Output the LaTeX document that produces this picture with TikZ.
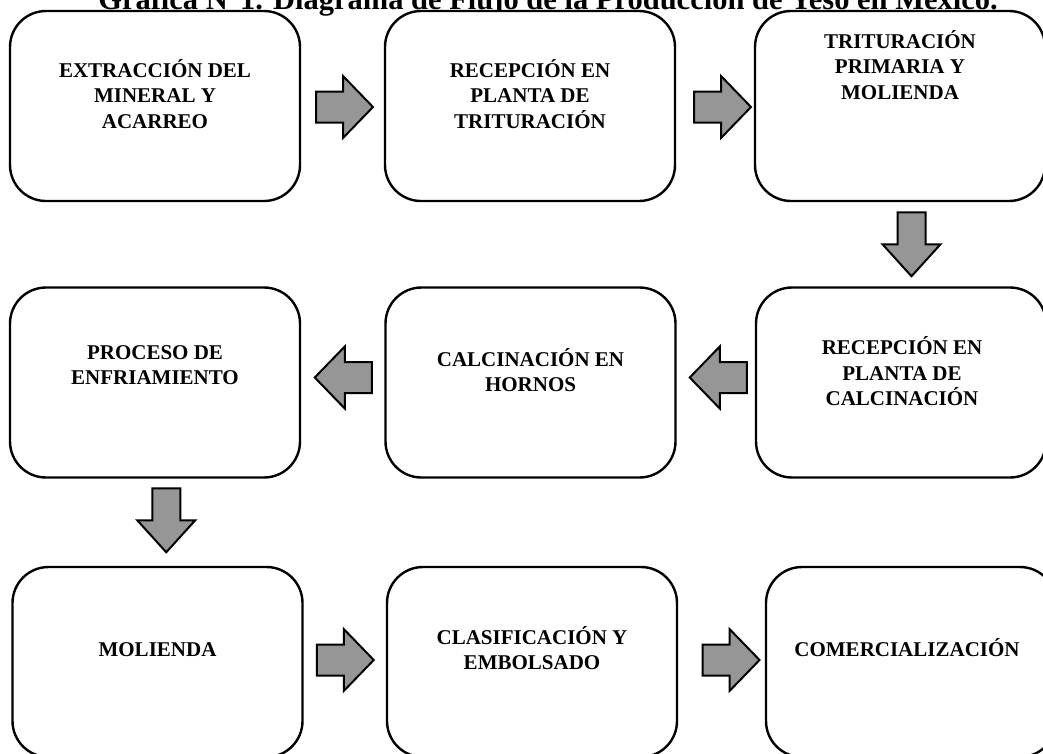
\documentclass[tikz,border=0pt]{standalone}
\usepackage{fontspec}
\setmainfont{Liberation Serif}
\usetikzlibrary{calc}
\definecolor{arrowgray}{RGB}{150,150,150}
\tikzset{
  box/.style={draw=black, line width=2.4pt, rounded corners=36pt, minimum width=290pt, minimum height=190pt, inner sep=0pt, fill=white},
  lbl/.style={font=\fontsize{21}{25.5}\selectfont\bfseries, align=center, inner sep=0pt},
  blk/.style={draw=black, line width=2pt, fill=arrowgray, line join=miter},
  rarr/.pic={\draw[blk] (-28,-15.5) -- (-1,-15.5) -- (-1,-31) -- (29,0) -- (-1,31) -- (-1,15.5) -- (-28,15.5) -- cycle;},
  larr/.pic={\draw[blk] (28,-15.5) -- (1,-15.5) -- (1,-31) -- (-29,0) -- (1,31) -- (1,15.5) -- (28,15.5) -- cycle;},
  darr/.pic={\draw[blk] (-14,-32) -- (-14,0) -- (-29,0) -- (0,32) -- (29,0) -- (14,0) -- (14,-32) -- cycle;}
}
\begin{document}
\begin{tikzpicture}[x=1pt,y=-1pt]
\useasboundingbox (0,0) rectangle (1043,753);
\clip (0,0) rectangle (1043,753);
\fill[white] (0,0) rectangle (1043,753);
% title
\node[font=\fontsize{30.5}{36}\selectfont\bfseries, anchor=base, inner sep=0pt] (title) at (548,9) {Gráfica N°1. Diagrama de Flujo de la Producción de Yeso en México.};
% boxes
\node[box] (b1) at (155,106) {};
\node[box] (b2) at (530,106) {};
\node[box] (b3) at (900,106) {};
\node[box] (b4) at (155,382.5) {};
\node[box] (b5) at (530.5,382.5) {};
\node[box] (b6) at (901,382.5) {};
\node[box] (b7) at (157.5,662) {};
\node[box] (b8) at (532,662) {};
\node[box] (b9) at (911,662) {};
% labels
\node[lbl] (t1) at (155,94) {EXTRACCIÓN DEL\\MINERAL Y\\ACARREO};
\node[lbl] (t2) at (530,94) {RECEPCIÓN EN\\PLANTA DE\\TRITURACIÓN};
\node[lbl] (t3) at (900,65) {TRITURACIÓN\\PRIMARIA Y\\MOLIENDA};
\node[lbl] (t4) at (155,365) {PROCESO DE\\ENFRIAMIENTO};
\node[lbl] (t5) at (530.5,370) {CALCINACIÓN EN\\HORNOS};
\node[lbl] (t6) at (902,371.5) {RECEPCIÓN EN\\PLANTA DE\\CALCINACIÓN};
\node[lbl] (t7) at (157.5,650) {MOLIENDA};
\node[lbl] (t8) at (532,648) {CLASIFICACIÓN Y\\EMBOLSADO};
\node[lbl] (t9) at (907,647.5) {COMERCIALIZACIÓN};
% block arrows between boxes
\path ($(b1.east)!0.5!(b2.west)$) ++(1.5,1) pic {rarr};
\path ($(b2.east)!0.5!(b3.west)$) ++(7,1) pic {rarr};
\path ($(b3.south)!0.5!(b6.north)$) ++(11,0) pic {darr};
\path ($(b6.west)!0.5!(b5.east)$) ++(3,-5) pic {larr};
\path ($(b5.west)!0.5!(b4.east)$) ++(1,-5) pic {larr};
\path ($(b4.south)!0.5!(b7.north)$) ++(10,-2) pic {darr};
\path ($(b7.east)!0.5!(b8.west)$) ++(0,-2) pic {rarr};
\path ($(b8.east)!0.5!(b9.west)$) ++(9,-2) pic {rarr};
\end{tikzpicture}
\end{document}
